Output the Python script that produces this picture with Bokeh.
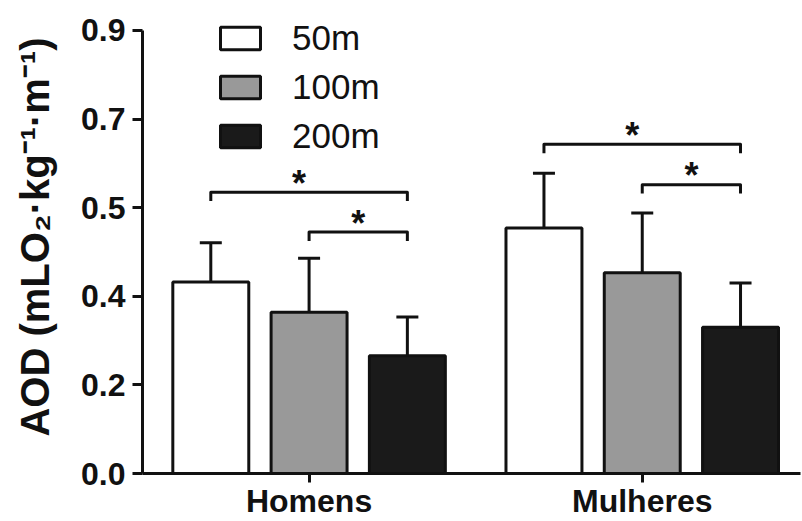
import numpy as np
from bokeh.plotting import figure
from bokeh.models import (Range1d, FixedTicker, ColumnDataSource, Whisker, TeeHead,
                          Legend, LegendItem)
from bokeh.core.properties import value
from bokeh.embed import file_html
from bokeh.resources import INLINE

# ---------------- data ----------------
categories = ["Homens", "Mulheres"]
distances = ["50m", "100m", "200m"]
mean_50 = [0.432, 0.554]
mean_100 = [0.364, 0.453]
mean_200 = [0.266, 0.330]
sd_50 = [0.089, 0.124]
sd_100 = [0.122, 0.135]
sd_200 = [0.087, 0.100]
y_ticks = [0.0, 0.2, 0.4, 0.6, 0.8, 1.0]
y_tick_labels = ["0.0", "0.2", "0.4", "0.5", "0.7", "0.9"]
y_title = "AOD (mLO\u2082\u00b7kg\u207b\u00b9\u00b7m\u207b\u00b9)"
# significance brackets: category index, first bar, second bar, height
bracket_cat = [0, 0, 1, 1]
bracket_from = [0, 1, 0, 1]
bracket_to = [2, 2, 2, 2]
bracket_h = [0.635, 0.545, 0.743, 0.652]
bracket_text = ["*", "*", "*", "*"]

# ---------------- style ----------------
FONT = "Liberation Sans"
fills = ["#ffffff", "#999999", "#1a1a1a"]
offsets = [-0.295, 0.0, 0.295]
bar_w = 0.228
drop = 0.02
star_dx = [-10, 0, -10, 0]

means = [mean_50, mean_100, mean_200]
sds = [sd_50, sd_100, sd_200]
centers = np.arange(len(categories)) + 0.5

p = figure(width=802, height=521,
           x_range=Range1d(0, 1.975), y_range=Range1d(0, 1.0677),
           output_backend="svg", toolbar_location=None,
           min_border_left=142, min_border_right=2,
           min_border_top=0, min_border_bottom=48)
p.outline_line_color = None
p.xgrid.visible = False
p.ygrid.visible = False
p.background_fill_color = "white"
p.border_fill_color = "white"

renderers = []
for i, name in enumerate(distances):
    m = np.array(means[i])
    s = np.array(sds[i])
    src = ColumnDataSource(dict(x=centers + offsets[i], top=m, upper=m + s))
    r = p.vbar(x="x", top="top", width=bar_w, source=src,
               fill_color=fills[i], line_color="#111111", line_width=3)
    renderers.append(r)
    w = Whisker(source=src, base="x", lower="top", upper="upper",
                dimension="height", line_width=3, line_color="#111111",
                upper_head=TeeHead(size=22, line_width=3, line_color="#111111"),
                lower_head=None)
    p.add_layout(w)

# brackets
bxs, bys, sx, sy = [], [], [], []
for c, a, b, h in zip(bracket_cat, bracket_from, bracket_to, bracket_h):
    xa = centers[c] + offsets[a]
    xb = centers[c] + offsets[b]
    bxs.append([xa, xa, xb, xb])
    bys.append([h - drop, h, h, h - drop])
    sx.append((xa + xb) / 2)
    sy.append(h)
p.multi_line(xs=bxs, ys=bys, line_width=3, line_color="#111111", line_join="round")
star_src = ColumnDataSource(dict(x=sx, y=sy, t=bracket_text, dx=star_dx))
p.text(x="x", y="y", text="t", x_offset="dx", y_offset=-9, source=star_src,
       text_font=value(FONT), text_font_size="36px",
       text_font_style="bold", text_align="center", text_baseline="middle",
       text_color="#111111")

# axes
p.yaxis.ticker = FixedTicker(ticks=y_ticks)
p.yaxis.major_label_overrides = {t: l for t, l in zip(y_ticks, y_tick_labels)}
p.yaxis.bounds = (0, 1.0)
p.xaxis.ticker = FixedTicker(ticks=list(centers))
p.xaxis.major_label_overrides = {float(c): n for c, n in zip(centers, categories)}

for ax in (p.xaxis, p.yaxis):
    ax.axis_line_width = 3
    ax.axis_line_color = "#111111"
    ax.major_tick_line_width = 3
    ax.major_tick_line_color = "#111111"
    ax.major_tick_out = 10
    ax.major_tick_in = 0
    ax.minor_tick_line_color = None
    ax.major_label_text_font = FONT
    ax.major_label_text_font_style = "bold"
    ax.major_label_text_color = "#111111"
p.yaxis.major_label_text_font_size = "32px"
p.xaxis.major_label_text_font_size = "32px"
p.xaxis.major_tick_out = 9
p.yaxis.major_label_standoff = 7
p.xaxis.major_label_standoff = 0

p.yaxis.axis_label = y_title
p.yaxis.axis_label_text_font = FONT
p.yaxis.axis_label_text_font_size = "40px"
p.yaxis.axis_label_text_font_style = "bold"
p.yaxis.axis_label_text_color = "#111111"
p.yaxis.axis_label_standoff = 21

legend = Legend(items=[LegendItem(label=d, renderers=[r]) for d, r in zip(distances, renderers)],
                location=(73, 317), glyph_width=50, glyph_height=28,
                label_height=28, spacing=9, padding=0, margin=0,
                label_standoff=27, label_text_font=FONT, label_text_font_size="35px",
                label_text_color="#111111", border_line_color=None,
                background_fill_alpha=0)
p.add_layout(legend)

open("out.html", "w").write(file_html(p, INLINE))
